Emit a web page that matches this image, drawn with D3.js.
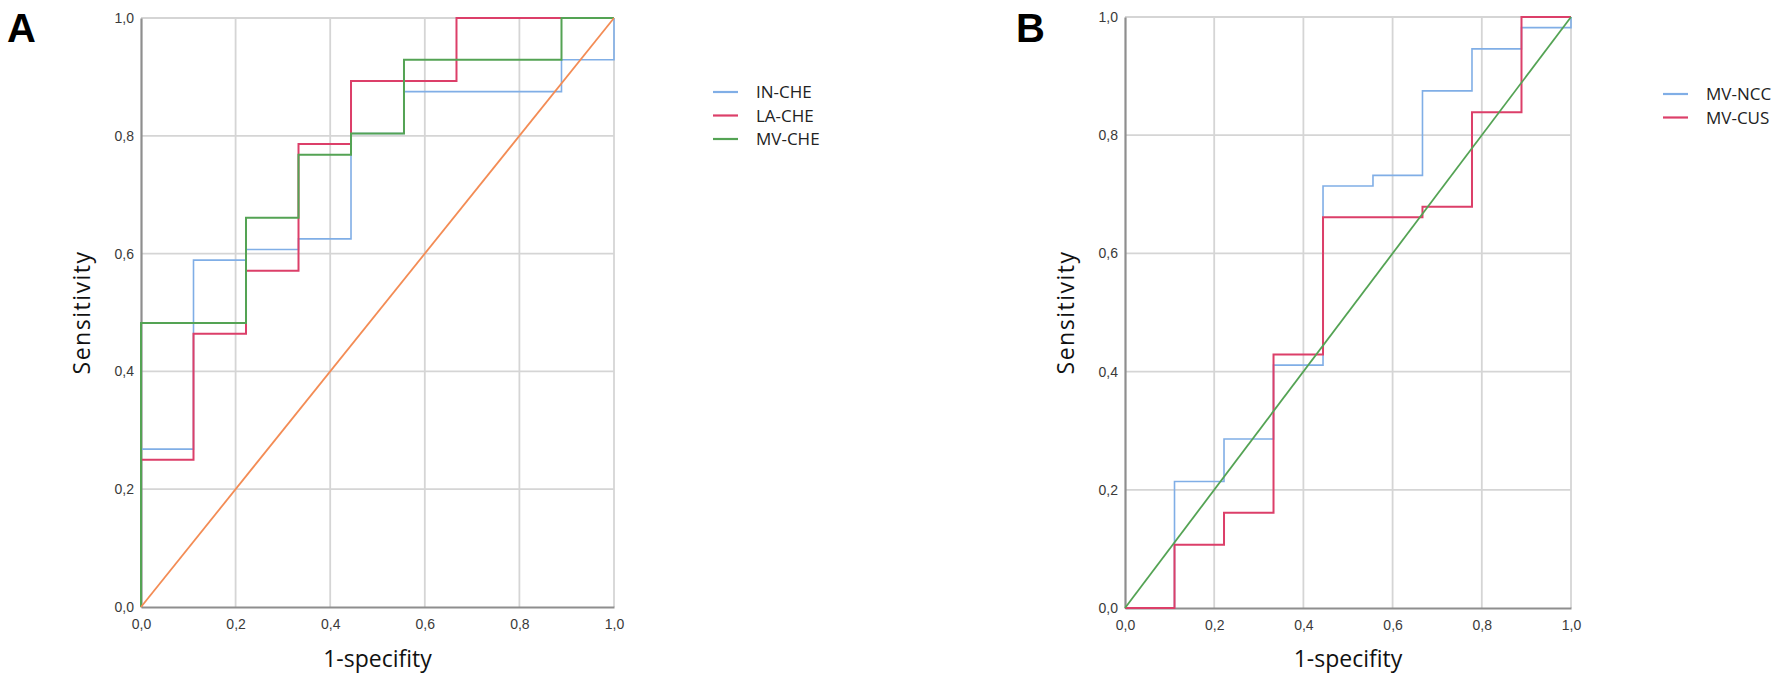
<!DOCTYPE html>
<html>
<head>
<meta charset="utf-8">
<script src="https://cdn.jsdelivr.net/npm/d3@7"></script>
<style>
  body { margin: 0; background: #fff; }
  svg { display: block; }
</style>
</head>
<body>
<svg id="chart" width="1783" height="680"></svg>
<script>
// axis ticks (shared by both panels)
const tickValues = [0, 0.2, 0.4, 0.6, 0.8, 1.0];
const tickLabels = ["0,0", "0,2", "0,4", "0,6", "0,8", "1,0"];

// Panel A - ROC points (1-specificity, sensitivity)
const inCheFpr = [0, 0, 0.111, 0.222, 0.333, 0.444, 0.556, 0.889, 1];
const inCheTpr = [0, 0.268, 0.589, 0.607, 0.625, 0.804, 0.875, 0.929, 1];
const laCheFpr = [0, 0, 0.111, 0.222, 0.333, 0.444, 0.667, 1];
const laCheTpr = [0, 0.25, 0.464, 0.571, 0.786, 0.893, 1, 1];
const mvCheFpr = [0, 0, 0.222, 0.333, 0.444, 0.556, 0.889, 1];
const mvCheTpr = [0, 0.482, 0.661, 0.768, 0.804, 0.929, 1, 1];

// Panel B
const mvNccFpr = [0, 0.111, 0.222, 0.333, 0.444, 0.556, 0.667, 0.778, 0.889, 1];
const mvNccTpr = [0, 0.214, 0.286, 0.411, 0.714, 0.732, 0.875, 0.946, 0.982, 1];
const mvCusFpr = [0, 0.111, 0.222, 0.333, 0.444, 0.667, 0.778, 0.889, 1];
const mvCusTpr = [0, 0.107, 0.161, 0.429, 0.661, 0.679, 0.839, 1, 1];

// reference diagonal
const refFpr = [0, 1];
const refTpr = [0, 1];

const svg = d3.select("#chart");
svg.append("rect").attr("width", 1783).attr("height", 680).attr("fill", "#fff");

const fmt = d => tickLabels[tickValues.indexOf(d)];

function zip(xs, ys) {
    return xs.map((x, i) => [x, ys[i]]);
}

function drawPanel(opts) {
    const { left, right, top, bottom, letter, letterX, series, refColor, legendX, legendY } = opts;

    const x = d3.scaleLinear().domain([0, 1]).range([left, right]);
    const y = d3.scaleLinear().domain([0, 1]).range([bottom, top]);

    const g = svg.append("g");

    // gridlines
    g.append("g").selectAll("line.v")
        .data(tickValues.slice(1))
        .join("line")
        .attr("x1", d => x(d)).attr("x2", d => x(d))
        .attr("y1", top).attr("y2", bottom)
        .attr("stroke", "#d5d5d5").attr("stroke-width", 1.8);
    g.append("g").selectAll("line.h")
        .data(tickValues.slice(1))
        .join("line")
        .attr("x1", left).attr("x2", right)
        .attr("y1", d => y(d)).attr("y2", d => y(d))
        .attr("stroke", "#d5d5d5").attr("stroke-width", 1.8);

    // axes
    const xAxis = g.append("g")
        .attr("transform", `translate(0,${bottom})`)
        .call(d3.axisBottom(x).tickValues(tickValues).tickFormat(fmt).tickSize(0).tickPadding(12));
    const yAxis = g.append("g")
        .attr("transform", `translate(${left},0)`)
        .call(d3.axisLeft(y).tickValues(tickValues).tickFormat(fmt).tickSize(0).tickPadding(7));
    [xAxis, yAxis].forEach(a => {
        a.select(".domain").attr("stroke", "#8e8e8e").attr("stroke-width", 2.2);
        a.selectAll("text")
            .attr("font-family", "'Liberation Sans', Arial, sans-serif")
            .attr("font-size", 14)
            .attr("fill", "#3a3a3a");
    });

    const line = d3.line()
        .x(d => x(d[0]))
        .y(d => y(d[1]))
        .curve(d3.curveStepAfter);

    series.forEach(s => {
        g.append("path")
            .datum(zip(s.fpr, s.tpr))
            .attr("fill", "none")
            .attr("stroke", s.color)
            .attr("stroke-width", s.width)
            .attr("d", line);
    });

    // reference line
    g.append("path")
        .datum(zip(refFpr, refTpr))
        .attr("fill", "none")
        .attr("stroke", refColor)
        .attr("stroke-width", 1.8)
        .attr("d", d3.line().x(d => x(d[0])).y(d => y(d[1])));

    // axis titles
    g.append("text")
        .attr("x", (left + right) / 2)
        .attr("y", 667)
        .attr("text-anchor", "middle")
        .attr("font-family", "'Open Sans', sans-serif")
        .attr("font-size", 23)
        .attr("fill", "#111")
        .text("1-specifity");
    g.append("text")
        .attr("transform", `translate(${left - 51},${(top + bottom) / 2}) rotate(-90)`)
        .attr("text-anchor", "middle")
        .attr("font-family", "'Open Sans', sans-serif")
        .attr("font-size", 23)
        .attr("letter-spacing", 1.5)
        .attr("fill", "#111")
        .text("Sensitivity");

    // panel letter
    svg.append("text")
        .attr("x", letterX)
        .attr("y", 42)
        .attr("font-family", "'Liberation Sans', Arial, sans-serif")
        .attr("font-weight", "bold")
        .attr("font-size", 40)
        .attr("fill", "#000")
        .text(letter);

    // legend
    const leg = svg.append("g").attr("transform", `translate(${legendX},${legendY})`);
    series.forEach((s, i) => {
        const row = leg.append("g").attr("transform", `translate(0,${i * 23.5})`);
        row.append("line")
            .attr("x1", 0).attr("x2", 25)
            .attr("stroke", s.color).attr("stroke-width", 2.2);
        row.append("text")
            .attr("x", 43).attr("y", 6)
            .attr("font-family", "'Open Sans', sans-serif")
            .attr("font-size", 17)
            .attr("fill", "#222")
            .text(s.name);
    });
}

const blue = "#80aee6", red = "#dc3f69", green = "#54a354", orange = "#f38c55";

drawPanel({
    left: 141, right: 614, top: 18, bottom: 607,
    letter: "A", letterX: 7,
    series: [
        { name: "IN-CHE", fpr: inCheFpr, tpr: inCheTpr, color: blue, width: 1.6 },
        { name: "LA-CHE", fpr: laCheFpr, tpr: laCheTpr, color: red, width: 2 },
        { name: "MV-CHE", fpr: mvCheFpr, tpr: mvCheTpr, color: green, width: 2 }
    ],
    refColor: orange,
    legendX: 713, legendY: 92
});

drawPanel({
    left: 1125, right: 1571, top: 17, bottom: 608,
    letter: "B", letterX: 1016,
    series: [
        { name: "MV-NCC", fpr: mvNccFpr, tpr: mvNccTpr, color: blue, width: 1.6 },
        { name: "MV-CUS", fpr: mvCusFpr, tpr: mvCusTpr, color: red, width: 2 }
    ],
    refColor: green,
    legendX: 1663, legendY: 94
});
</script>
</body>
</html>
